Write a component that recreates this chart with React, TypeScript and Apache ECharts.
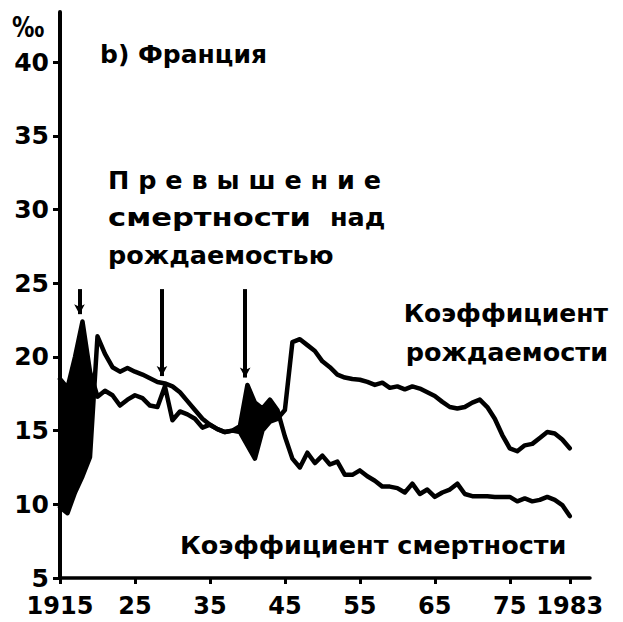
import React, { useEffect, useRef } from "react";
import * as echarts from "echarts";

const years = [
  1915, 1916, 1917, 1918, 1919, 1920, 1921, 1922, 1923, 1924,
  1925, 1926, 1927, 1928, 1929, 1930, 1931, 1932, 1933, 1934,
  1935, 1936, 1937, 1938, 1939, 1940, 1941, 1942, 1943, 1944,
  1945, 1946, 1947, 1948, 1949, 1950, 1951, 1952, 1953, 1954,
  1955, 1956, 1957, 1958, 1959, 1960, 1961, 1962, 1963, 1964,
  1965, 1966, 1967, 1968, 1969, 1970, 1971, 1972, 1973, 1974,
  1975, 1976, 1977, 1978, 1979, 1980, 1981, 1982, 1983,
];

// Коэффициент рождаемости (‰)
const birthRate = [
  9.8, 9.4, 10.8, 11.9, 13.2, 21.4, 20.2, 19.3, 19.0, 19.25,
  19.0, 18.8, 18.55, 18.3, 18.2, 18.0, 17.6, 17.0, 16.4, 15.8,
  15.4, 15.1, 14.9, 15.0, 14.9, 14.0, 13.1, 15.0, 15.6, 15.8,
  16.4, 21.0, 21.2, 20.8, 20.4, 19.7, 19.3, 18.8, 18.6, 18.5,
  18.45, 18.3, 18.1, 18.25, 17.9, 18.0, 17.8, 18.0, 17.85, 17.6,
  17.35, 16.95, 16.6, 16.5, 16.6, 16.9, 17.1, 16.6, 15.8, 14.7,
  13.8, 13.6, 14.0, 14.1, 14.5, 14.9, 14.8, 14.4, 13.8,
];

// Коэффициент смертности (‰)
const deathRate = [
  18.5, 17.9, 20.0, 22.4, 19.0, 17.3, 17.7, 17.4, 16.7, 17.1,
  17.4, 17.2, 16.7, 16.6, 18.0, 15.7, 16.3, 16.1, 15.8, 15.2,
  15.4, 15.1, 14.9, 15.0, 15.3, 18.1, 16.9, 16.5, 17.1, 16.4,
  14.6, 13.1, 12.5, 13.5, 12.8, 13.3, 12.7, 12.9, 12.0, 12.0,
  12.3, 11.9, 11.6, 11.2, 11.2, 11.1, 10.8, 11.4, 10.7, 11.0,
  10.5, 10.8, 11.0, 11.4, 10.7, 10.55, 10.55, 10.55, 10.5, 10.5,
  10.5, 10.2, 10.4, 10.2, 10.3, 10.5, 10.3, 9.95, 9.2,
];

const yTicks = [5, 10, 15, 20, 25, 30, 35, 40];
const xTicks = [1915, 1925, 1935, 1945, 1955, 1965, 1975, 1983];
const xTickLabels = ["1915", "25", "35", "45", "55", "65", "75", "1983"];

// arrows pointing at years of excess mortality
const arrowYears = [1917.6, 1928.6, 1939.7];
const arrowTop = 24.6;
const arrowTips = [22.9, 18.7, 18.6];

const FONT = "'DejaVu Sans', sans-serif";

function excessPolygons(): number[][][] {
  const polys: number[][][] = [];
  let top: number[][] | null = null;
  let bottom: number[][] = [];
  const cross = (i: number) => {
    const d0 = deathRate[i - 1] - birthRate[i - 1];
    const d1 = deathRate[i] - birthRate[i];
    const t = d0 / (d0 - d1);
    return [
      years[i - 1] + t * (years[i] - years[i - 1]),
      deathRate[i - 1] + t * (deathRate[i] - deathRate[i - 1]),
    ];
  };
  for (let i = 0; i < years.length; i++) {
    const diff = deathRate[i] - birthRate[i];
    if (diff > 0) {
      if (!top) {
        top = [];
        bottom = [];
        if (i > 0) top.push(cross(i));
      }
      top.push([years[i], deathRate[i]]);
      bottom.push([years[i], birthRate[i]]);
    } else if (top) {
      top.push(cross(i));
      polys.push([...top, ...bottom.reverse()]);
      top = null;
    }
  }
  if (top) polys.push([...top, ...bottom.reverse()]);
  return polys;
}

function txt(
  text: string,
  x: number,
  y: number,
  size: number,
  align: string = "left",
  scaleX: number = 1
) {
  return {
    type: "text",
    x,
    y,
    scaleX,
    z: 10,
    style: {
      text,
      fill: "#000",
      fontSize: size,
      fontWeight: "bold",
      fontFamily: FONT,
      textAlign: align,
      align,
      textVerticalAlign: "middle",
      verticalAlign: "middle",
    },
  };
}

export default function App() {
  const ref = useRef<HTMLDivElement>(null);
  useEffect(() => {
    document.body.style.margin = "0";
    const chart = echarts.init(ref.current!, undefined, { renderer: "svg" });
    const polys = excessPolygons();
    const axisLabelStyle = {
      color: "#000",
      fontSize: 24,
      fontWeight: "bold",
      fontFamily: FONT,
    };
    chart.setOption({
      animation: false,
      backgroundColor: "#fff",
      grid: { left: 60, right: 33, top: 12, bottom: 44, containLabel: false },
      xAxis: {
        type: "value",
        min: 1915,
        max: 1985.7,
        splitLine: { show: false },
        axisLine: { show: true, onZero: false, lineStyle: { color: "#000", width: 3.5 } },
        axisTick: {
          show: true,
          customValues: xTicks,
          length: 6,
          lineStyle: { color: "#000", width: 3 },
        },
        axisLabel: {
          ...axisLabelStyle,
          customValues: xTicks,
          margin: 16,
          formatter: (v: number) => {
            const i = xTicks.indexOf(Math.round(v));
            return i >= 0 ? xTickLabels[i] : "";
          },
        },
      },
      yAxis: {
        type: "value",
        min: 5,
        max: 43.4,
        splitLine: { show: false },
        axisLine: { show: true, onZero: false, lineStyle: { color: "#000", width: 4 } },
        axisTick: {
          show: true,
          customValues: yTicks,
          length: 7,
          lineStyle: { color: "#000", width: 3 },
        },
        axisLabel: {
          ...axisLabelStyle,
          fontSize: 25,
          customValues: yTicks,
          margin: 11,
        },
      },
      graphic: [
        txt("‰", 12, 27, 28, "left", 0.8),
        txt("b) Франция", 100, 54, 25),
        txt("П р е в ы ш е н и е", 108, 180, 25.5),
        txt("смертности", 108, 217, 25.5, "left", 1.2),
        txt("над", 330, 217, 25.5),
        txt("рождаемостью", 108, 255, 25.5),
        txt("Коэффициент", 608, 313, 25, "right"),
        txt("рождаемости", 608, 352, 25.5, "right"),
        txt("Коэффициент смертности", 180, 545, 25.5),
      ],
      series: [
        {
          type: "custom",
          z: 1,
          silent: true,
          data: polys.map((p) => p[0]),
          renderItem: (params: any, api: any) => {
            const pts = polys[params.dataIndex].map((p) => api.coord(p));
            return {
              type: "polygon",
              shape: { points: pts },
              style: { fill: "#000", stroke: "#000", lineWidth: 1 },
            };
          },
        },
        {
          type: "line",
          name: "Коэффициент рождаемости",
          z: 3,
          symbol: "none",
          data: years.map((y, i) => [y, birthRate[i]]),
          lineStyle: { color: "#000", width: 4.5, cap: "round", join: "round" },
          markLine: {
            silent: true,
            symbol: ["none", "arrow"],
            symbolSize: [8, 10],
            label: { show: false },
            lineStyle: { color: "#000", width: 4, type: "solid" },
            data: arrowYears.map((x, i) => [
              { coord: [x, arrowTop] },
              { coord: [x, arrowTips[i]] },
            ]),
          },
        },
        {
          type: "line",
          name: "Коэффициент смертности",
          z: 3,
          symbol: "none",
          data: years.map((y, i) => [y, deathRate[i]]),
          lineStyle: { color: "#000", width: 4.5, cap: "round", join: "round" },
        },
      ],
    });
    return () => chart.dispose();
  }, []);
  return <div ref={ref} style={{ width: 623, height: 622 }} />;
}
